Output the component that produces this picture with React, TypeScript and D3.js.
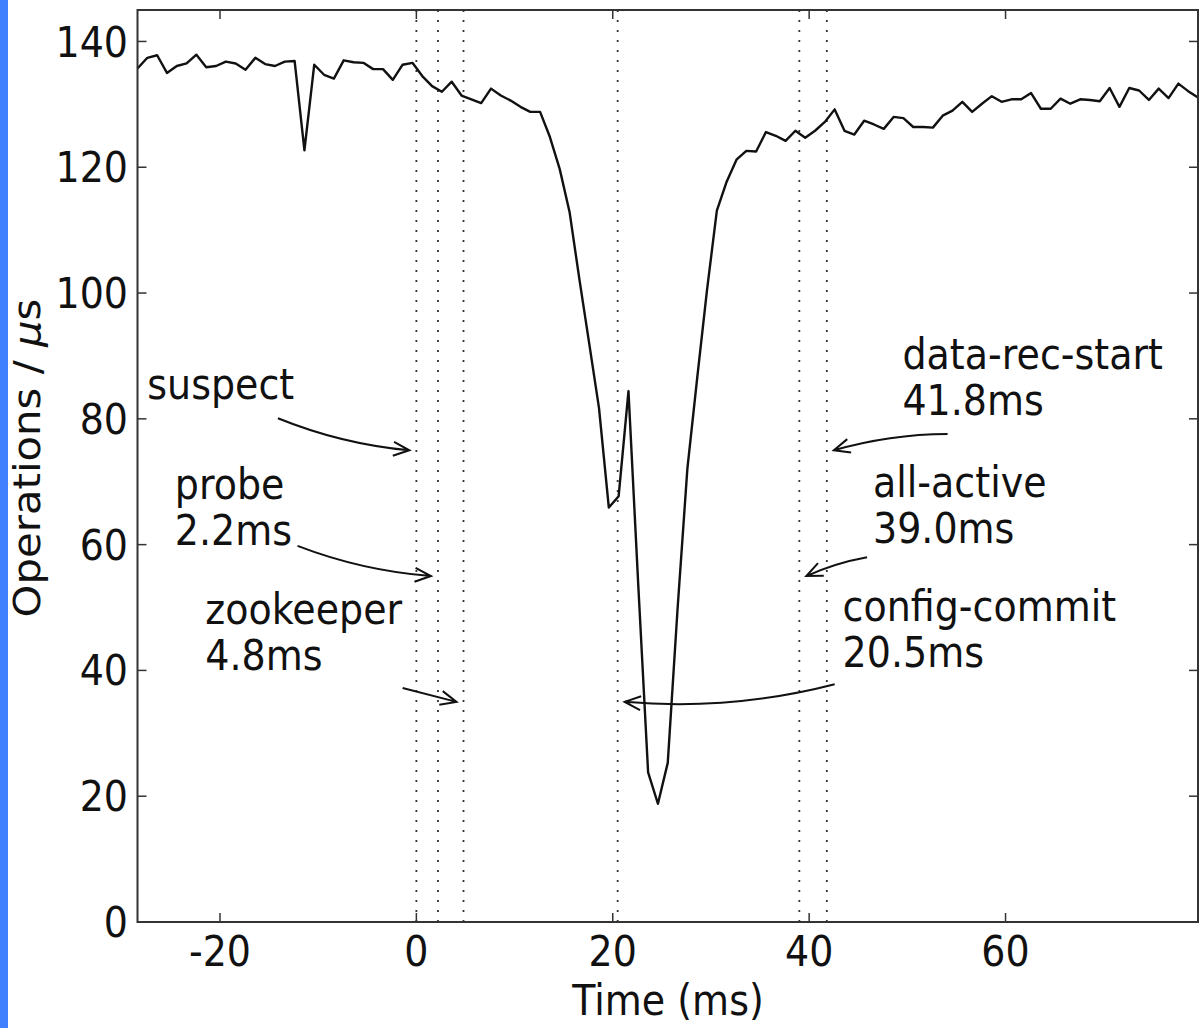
import * as d3 from 'd3'

// sampled throughput, one sample per ms starting at -28.4 ms
const sampleStartMs = -28.4
const sampleStepMs = 1
const opsPerUs = [
  135.7, 137.4, 137.8, 135.0, 136.1, 136.5, 137.9, 135.9, 136.1, 136.8,
  136.5, 135.5, 137.4, 136.4, 136.1, 136.8, 136.9, 122.7, 136.3, 134.7,
  134.1, 137.0, 136.7, 136.6, 135.6, 135.6, 133.9, 136.3, 136.6, 134.5,
  132.9, 132.0, 133.6, 131.4, 130.8, 130.2, 132.5, 131.4, 130.6, 129.6,
  128.8, 128.8, 124.8, 119.7, 112.9, 102.2, 92.0, 81.7, 65.9, 67.7,
  84.4, 53.5, 23.8, 18.8, 25.3, 49.8, 72.1, 86.5, 100.5, 113.1,
  117.7, 121.2, 122.6, 122.5, 125.6, 125.0, 124.2, 125.8, 124.7, 125.8,
  127.2, 129.2, 125.8, 125.2, 127.4, 126.8, 126.1, 128.0, 127.8, 126.4,
  126.4, 126.3, 128.2, 129.0, 130.4, 128.8, 130.1, 131.3, 130.4, 130.8,
  130.8, 131.8, 129.3, 129.3, 130.9, 130.1, 130.8, 130.7, 130.5, 132.6,
  129.6, 132.6, 132.2, 130.7, 132.5, 131.0, 133.3, 132.1, 131.1,
]

const eventNames = ['suspect', 'probe', 'zookeeper', 'config-commit', 'all-active', 'data-rec-start']
const eventTimes = [0, 2.2, 4.8, 20.5, 39.0, 41.8]
const eventLabels = ['', '2.2ms', '4.8ms', '20.5ms', '39.0ms', '41.8ms']
const arrowValues = [75, 55, 35, 35, 55, 75]

const xTicks = [-20, 0, 20, 40, 60]
const yTicks = [0, 20, 40, 60, 80, 100, 120, 140]

// annotation layout, in data coordinates (like xytext)
const layout = [
  { tx: -27.4, ty: 83.1, sx: -14.1, sy: 80.1, side: -1, bend: 10 },
  { tx: -24.6, ty: 67.2, sx: -12.1, sy: 59.8, side: -1, bend: 10 },
  { tx: -21.5, ty: 47.3, sx: -1.4, sy: 37.2, side: -1, bend: 0 },
  { tx: 43.4, ty: 47.8, sx: 42.6, sy: 37.8, side: 1, bend: -18 },
  { tx: 46.5, ty: 67.6, sx: 45.9, sy: 58.0, side: 1, bend: 4 },
  { tx: 49.5, ty: 88.0, sx: 54.1, sy: 77.6, side: 1, bend: 8 },
]

const W = 1200
const H = 1028
const FS = 38
const SY = 1.1
const FONT = 'DejaVu Sans, sans-serif'

function arrow(sx: number, sy: number, ex: number, ey: number, bend: number) {
  const dx = ex - sx
  const dy = ey - sy
  const len = Math.hypot(dx, dy)
  const cx = (sx + ex) / 2 + (-dy / len) * bend
  const cy = (sy + ey) / 2 + (dx / len) * bend
  const ux = (ex - cx) / Math.hypot(ex - cx, ey - cy)
  const uy = (ey - cy) / Math.hypot(ex - cx, ey - cy)
  const hl = 16
  const hw = 7
  const bx = ex - ux * hl
  const by = ey - uy * hl
  const line = `M${sx},${sy}Q${cx},${cy} ${ex},${ey}`
  const head = `M${bx - uy * hw},${by + ux * hw}L${ex},${ey}L${bx + uy * hw},${by - ux * hw}`
  return line + head
}

function Txt({ x, y, children, anchor = 'start', dy = '0', rotate = 0 }: any) {
  return (
    <g transform={`translate(${x},${y}) scale(1,${SY}) rotate(${rotate})`}>
      <text x={0} y={0} dy={dy} textAnchor={anchor} fontFamily={FONT} fontSize={FS} fill="#111">
        {children}
      </text>
    </g>
  )
}

export default function App() {
  const left = 137.5
  const right = 1198
  const top = 10
  const bottom = 922
  const times = opsPerUs.map((_, i) => sampleStartMs + i * sampleStepMs)
  const x = d3.scaleLinear().domain([times[0], times[times.length - 1]]).range([left, right])
  const y = d3.scaleLinear().domain([0, 145]).range([bottom, top])
  const line = d3
    .line<number>()
    .x((_, i) => x(times[i]))
    .y((d) => y(d))

  return (
    <svg
      width={W}
      height={H}
      style={{ position: 'absolute', left: 0, top: 0, background: '#fff' }}
    >
      <rect x={0} y={0} width={W} height={H} fill="#fff" />
      <rect x={0} y={0} width={8} height={H} fill="#4080ff" />

      {eventTimes.map((t, i) => (
        <line
          key={'ev' + i}
          x1={x(t)}
          x2={x(t)}
          y1={top}
          y2={bottom}
          stroke="#333"
          strokeWidth={1.8}
          strokeDasharray="2 8"
        />
      ))}

      <path d={line(opsPerUs) || ''} fill="none" stroke="#111" strokeWidth={2.4} strokeLinejoin="round" />

      {/* ticks, inside on all four sides */}
      {xTicks.map((t) => (
        <g key={'xt' + t}>
          <line x1={x(t)} x2={x(t)} y1={bottom} y2={bottom - 9} stroke="#333" strokeWidth={1.5} />
          <line x1={x(t)} x2={x(t)} y1={top} y2={top + 9} stroke="#333" strokeWidth={1.5} />
          <Txt x={x(t)} y={966} anchor="middle">
            {t}
          </Txt>
        </g>
      ))}
      {yTicks.map((t) => (
        <g key={'yt' + t}>
          <line x1={left} x2={left + 9} y1={y(t)} y2={y(t)} stroke="#333" strokeWidth={1.5} />
          <line x1={right} x2={right - 9} y1={y(t)} y2={y(t)} stroke="#333" strokeWidth={1.5} />
          <Txt x={128} y={y(t)} anchor="end" dy="0.36em">
            {t}
          </Txt>
        </g>
      ))}

      <rect
        x={left}
        y={top}
        width={right - left}
        height={bottom - top}
        fill="none"
        stroke="#333"
        strokeWidth={2}
      />

      {/* annotations */}
      {eventNames.map((name, i) => {
        const l = layout[i]
        const ex = x(eventTimes[i]) + l.side * 7
        const ey = y(arrowValues[i])
        return (
          <g key={'an' + i}>
            <Txt x={x(l.tx)} y={y(l.ty)}>
              {name}
            </Txt>
            {eventLabels[i] && (
              <Txt x={x(l.tx)} y={y(l.ty) + 46}>
                {eventLabels[i]}
              </Txt>
            )}
            <path
              d={arrow(x(l.sx), y(l.sy), ex, ey, l.bend)}
              fill="none"
              stroke="#111"
              strokeWidth={2}
            />
          </g>
        )
      })}

      <Txt x={668} y={1015} anchor="middle">
        Time (ms)
      </Txt>
      <Txt x={40} y={458} anchor="middle" rotate={-90}>
        Operations /{' '}
        <tspan fontStyle="italic">μ</tspan>s
      </Txt>
    </svg>
  )
}
